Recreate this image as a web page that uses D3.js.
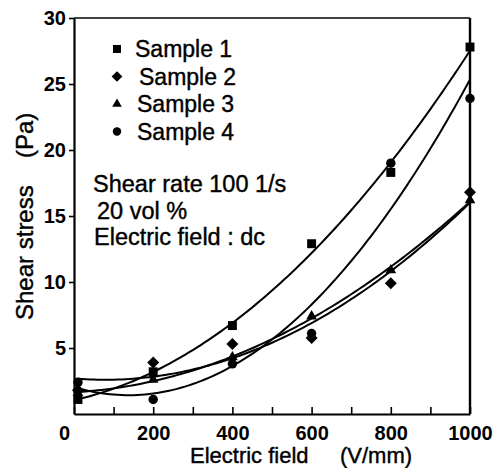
<!DOCTYPE html>
<html>
<head>
<meta charset="utf-8">
<script src="https://cdn.jsdelivr.net/npm/d3@7"></script>
<style>
  body { margin: 0; background: #fff; }
  svg { display: block; }
  text { font-family: "Liberation Sans", Arial, sans-serif; fill: #000; }
</style>
</head>
<body>
<div id="chart"></div>
<script>
// data
const fieldValues = [10, 200, 400, 600, 800, 1000];
const sample1 = [1.1, 3.2, 6.7, 12.9, 18.3, 27.8];
const sample2 = [1.8, 3.9, 5.3, 5.75, 9.9, 16.8];
const sample3 = [1.6, 2.6, 4.3, 7.4, 10.9, 16.2];
const sample4 = [2.4, 1.1, 3.8, 6.1, 19.0, 23.9];
const seriesNames = ['Sample 1', 'Sample 2', 'Sample 3', 'Sample 4'];
const seriesSymbols = ['square', 'diamond', 'triangle', 'circle'];
const xTicks = [0, 100, 200, 300, 400, 500, 600, 700, 800, 900, 1000];
const yTicks = [5, 10, 15, 20, 25, 30];
const notes = ['Shear rate 100 1/s', '20 vol %', 'Electric field : dc'];

const width = 504, height = 468;
const svg = d3.select('#chart').append('svg')
    .attr('width', width)
    .attr('height', height);

const x = d3.scaleLinear().domain([0, 1000]).range([74, 470]);
const y = d3.scaleLinear().domain([0, 30]).range([414, 18]);

// least squares quadratic fit through the points of one sample
function quadFit(xs, ys) {
    const s = [0, 0, 0, 0, 0], t = [0, 0, 0];
    xs.forEach((xv, i) => {
        const u = xv / 1000;
        for (let k = 0; k < 5; k++) s[k] += Math.pow(u, k);
        for (let k = 0; k < 3; k++) t[k] += ys[i] * Math.pow(u, k);
    });
    const m = [[s[0], s[1], s[2], t[0]], [s[1], s[2], s[3], t[1]], [s[2], s[3], s[4], t[2]]];
    for (let i = 0; i < 3; i++) {
        for (let j = i + 1; j < 3; j++) {
            const f = m[j][i] / m[i][i];
            for (let k = i; k < 4; k++) m[j][k] -= f * m[i][k];
        }
    }
    const c = [0, 0, 0];
    for (let i = 2; i >= 0; i--) {
        let v = m[i][3];
        for (let k = i + 1; k < 3; k++) v -= m[i][k] * c[k];
        c[i] = v / m[i][i];
    }
    return xv => { const u = xv / 1000; return c[0] + c[1] * u + c[2] * u * u; };
}

const samples = [sample1, sample2, sample3, sample4].map((vals, i) => ({
    name: seriesNames[i],
    symbol: seriesSymbols[i],
    points: fieldValues.map((f, j) => ({ f: f, v: vals[j] })),
    fit: quadFit(fieldValues, vals)
}));

// frame
svg.append('line').attr('x1', x(0)).attr('x2', x(1000)).attr('y1', y(30)).attr('y2', y(30))
    .attr('stroke', '#000').attr('stroke-width', 1.6);
svg.append('line').attr('x1', x(1000)).attr('x2', x(1000)).attr('y1', y(30)).attr('y2', y(0))
    .attr('stroke', '#000').attr('stroke-width', 2.4);

// x axis, ticks pointing inward
const xAxis = svg.append('g')
    .attr('transform', `translate(0,${y(0)})`)
    .call(d3.axisBottom(x)
        .tickValues(xTicks)
        .tickSizeInner(-7)
        .tickSizeOuter(0)
        .tickPadding(12)
        .tickFormat(d => d % 200 === 0 ? d : ''));
xAxis.select('.domain').attr('stroke-width', 2.2);
xAxis.selectAll('.tick line').attr('stroke-width', 1.6);
xAxis.selectAll('.tick text')
    .attr('font-size', 20)
    .attr('font-weight', 'bold')
    .attr('font-family', '"Liberation Sans", Arial, sans-serif');
xAxis.selectAll('.tick').filter(d => d === 0).select('text').attr('dx', -10);

// y axis
const yAxis = svg.append('g')
    .attr('transform', `translate(${x(0)},0)`)
    .call(d3.axisLeft(y)
        .tickValues(yTicks)
        .tickSizeInner(5)
        .tickSizeOuter(0)
        .tickPadding(3));
yAxis.select('.domain').attr('stroke-width', 2.2);
yAxis.selectAll('.tick line').attr('stroke-width', 1.6);
yAxis.selectAll('.tick text')
    .attr('font-size', 20)
    .attr('font-weight', 'bold')
    .attr('font-family', '"Liberation Sans", Arial, sans-serif');

// axis titles, two pieces each with a wide gap
function heavy(sel) {
    return sel.attr('stroke', '#000').attr('stroke-width', 0.4);
}
heavy(svg.append('text').attr('x', 190).attr('y', 463).attr('font-size', 22).text('Electric field'));
heavy(svg.append('text').attr('x', 340).attr('y', 463).attr('font-size', 22).text('(V/mm)'));
heavy(svg.append('text')
    .attr('transform', 'translate(33,320) rotate(-90)')
    .attr('font-size', 24)
    .text('Shear stress'));
heavy(svg.append('text')
    .attr('transform', 'translate(33,158) rotate(-90)')
    .attr('font-size', 24)
    .text('(Pa)'));

// fitted curves
const curve = d3.line()
    .x(d => x(d[0]))
    .y(d => y(d[1]));
samples.forEach(s => {
    const pts = d3.range(10, 1001, 10).map(f => [f, s.fit(f)]);
    svg.append('path')
        .attr('d', curve(pts))
        .attr('fill', 'none')
        .attr('stroke', '#000')
        .attr('stroke-width', 2);
});

// markers
const diamond = {
    draw(ctx, size) {
        const r = Math.sqrt(size / 2);
        ctx.moveTo(0, -r);
        ctx.lineTo(r, 0);
        ctx.lineTo(0, r);
        ctx.lineTo(-r, 0);
        ctx.closePath();
    }
};
const symbolType = {
    square: d3.symbolSquare,
    diamond: diamond,
    triangle: d3.symbolTriangle,
    circle: d3.symbolCircle
};
const symbolSize = { square: 80, diamond: 72, triangle: 50, circle: 70 };
samples.forEach(s => {
    svg.append('g').selectAll('path')
        .data(s.points)
        .enter().append('path')
        .attr('transform', d => `translate(${x(d.f)},${y(d.v)})`)
        .attr('d', d3.symbol().type(symbolType[s.symbol]).size(symbolSize[s.symbol]))
        .attr('fill', '#000');
});

// legend
const legend = svg.append('g');
samples.forEach((s, i) => {
    const cy = 49 + i * 27.5;
    legend.append('path')
        .attr('transform', `translate(117,${cy})`)
        .attr('d', d3.symbol().type(symbolType[s.symbol]).size(symbolSize[s.symbol] * 0.8))
        .attr('fill', '#000');
    heavy(legend.append('text')
        .attr('x', i === 0 ? 135 : i === 1 ? 139 : 137)
        .attr('y', cy + 8)
        .attr('font-size', 23)
        .text(s.name));
});

// conditions note
const noteX = [93, 97, 94];
notes.forEach((n, i) => {
    heavy(svg.append('text')
        .attr('x', noteX[i])
        .attr('y', 192 + i * 26.5)
        .attr('font-size', 23.5)
        .text(n));
});
</script>
</body>
</html>
